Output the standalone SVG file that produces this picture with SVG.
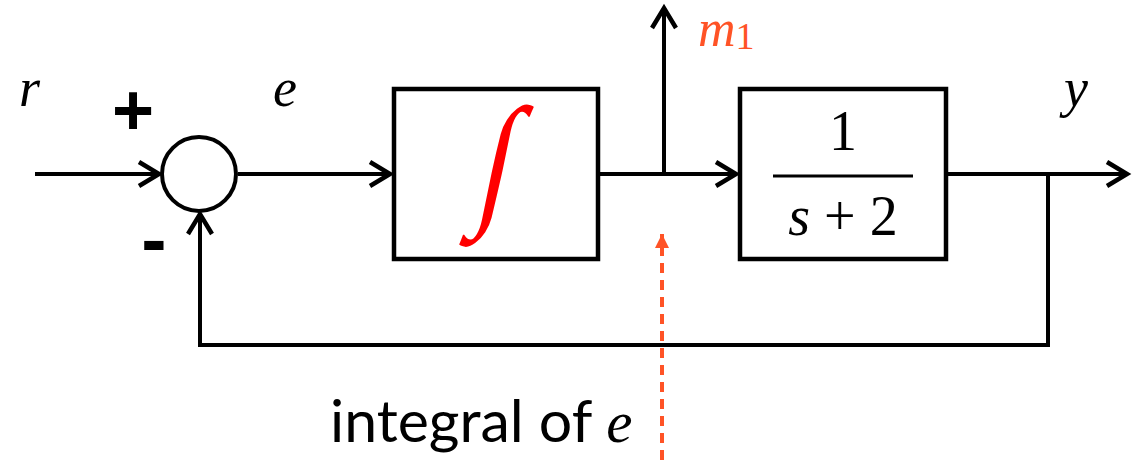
<svg xmlns="http://www.w3.org/2000/svg" width="1133" height="460" viewBox="0 0 1133 460">
<style>
.w{fill:none;stroke:#000;stroke-width:4}
.box{fill:#fff;stroke:#000;stroke-width:4.5}
.m{font-family:"Liberation Serif","DejaVu Serif",serif;font-style:italic}
.n{font-family:"Liberation Serif","DejaVu Serif",serif}
</style>
<defs>
<marker id="ah" markerUnits="userSpaceOnUse" markerWidth="30" markerHeight="30" refX="22" refY="14" orient="auto" viewBox="0 0 30 28">
<path d="M2,2 L22,14 L2,26" fill="none" stroke="#000" stroke-width="4.5"/>
</marker>
<marker id="oh" markerUnits="userSpaceOnUse" markerWidth="16" markerHeight="16" refX="14" refY="8" orient="auto" viewBox="0 0 16 16">
<path d="M0,1 L14,8 L0,15 Z" fill="#ff5326"/>
</marker>
</defs>
<g id="connectors">
<line class="w" x1="35" y1="174" x2="159" y2="174" marker-end="url(#ah)"/>
<line class="w" x1="238" y1="174" x2="390" y2="174" marker-end="url(#ah)"/>
<line class="w" x1="600" y1="174" x2="736" y2="174" marker-end="url(#ah)"/>
<line class="w" x1="664" y1="174" x2="664" y2="8" marker-end="url(#ah)"/>
<line class="w" x1="947" y1="174" x2="1127" y2="174" marker-end="url(#ah)"/>
<polyline class="w" points="1048,174 1048,345 200,345 200,214" marker-end="url(#ah)"/>
<line x1="662" y1="460" x2="662" y2="234" stroke="#ff5326" stroke-width="4" stroke-dasharray="10,7" marker-end="url(#oh)"/>
</g>
<g id="sum">
<circle cx="199" cy="174" r="37" fill="#fff" stroke="#000" stroke-width="4"/>
</g>
<g id="integrator">
<rect class="box" x="394" y="89" width="204" height="170"/>
<text class="n" x="497" y="164" font-size="100" text-anchor="middle" fill="#ff0000" transform="translate(497 174) skewX(-12) scale(1.2 1.45) translate(-497 -174)" dominant-baseline="central">∫</text>
</g>
<g id="plant">
<rect class="box" x="740" y="89" width="206" height="170"/>
<text class="n" x="843" y="150" font-size="56" text-anchor="middle">1</text>
<line x1="773" y1="176" x2="913" y2="176" stroke="#000" stroke-width="3"/>
<text class="n" x="843" y="235" font-size="56" text-anchor="middle"><tspan font-style="italic">s</tspan> + 2</text>
</g>
<g id="labels">
<text class="m" x="19" y="106" font-size="54">r</text>
<text x="133" y="135" font-size="72" font-weight="bold" text-anchor="middle" font-family="'Liberation Sans',sans-serif">+</text>
<text x="154" y="265" font-size="76" font-weight="bold" text-anchor="middle" font-family="'Liberation Sans',sans-serif">-</text>
<text class="m" x="273" y="106" font-size="54">e</text>
<text class="m" x="1064" y="106" font-size="54">y</text>
<text class="m" x="698" y="46" font-size="52" fill="#ff5326">m<tspan font-style="normal" font-size="38" dy="3">1</tspan></text>
<text font-family="Lato,sans-serif" x="330" y="442" font-size="59">integral of <tspan class="m">e</tspan></text>
</g>
</svg>
